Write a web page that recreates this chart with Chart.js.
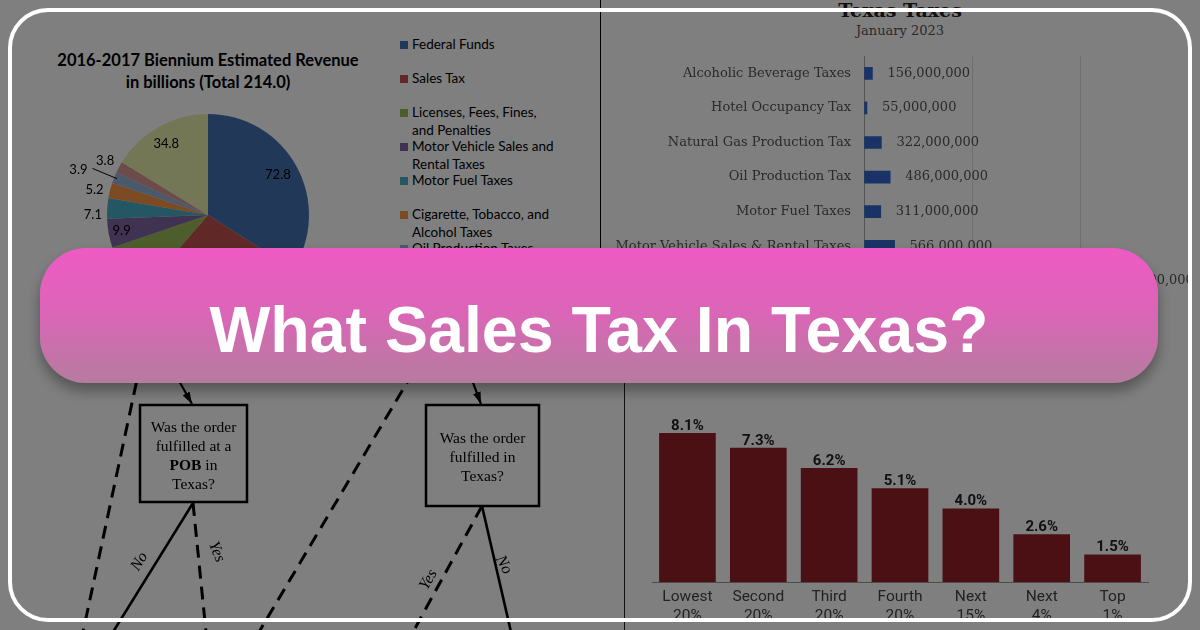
<!DOCTYPE html>
<html>
<head>
<meta charset="utf-8">
<script src="https://cdn.jsdelivr.net/npm/chart.js@4.4.1/dist/chart.umd.min.js"></script>
<style>
  html, body { margin: 0; padding: 0; }
  body { width: 1200px; height: 630px; position: relative; overflow: hidden; background: #fff; }
  .abs { position: absolute; }
  #scene { left: 0; top: 0; width: 1200px; height: 630px; background: #fff; }
  .pie-title { left: 8px; top: 49px; width: 400px; text-align: center; font: bold 16.5px Lato, sans-serif; line-height: 22px; color: #000; }
  #pieLegend { left: 400px; top: 36px; font: 13.5px Lato, sans-serif; color: #000; }
  .lg-item { position: relative; height: 34px; padding-left: 12px; line-height: 17.5px; }
  .lg-box { position: absolute; left: 0; top: 5px; width: 7.5px; height: 7.5px; }
  .hb-title { left: 700px; top: -1px; width: 400px; text-align: center; font: bold 19px "DejaVu Serif", serif; line-height: 22px; color: #222; }
  .hb-sub { left: 700px; top: 22.5px; width: 400px; text-align: center; font: 13px "DejaVu Serif", serif; line-height: 16px; color: #555; }
  .vline { width: 1px; background: #000; }
  #dim { left: 0; top: 0; width: 1200px; height: 630px; background: rgba(0, 0, 0, 0.5); }
  #frame { left: 8px; top: 8px; width: 1176px; height: 606px; border: 4px solid #fff; border-radius: 40px; }
  #banner { left: 40px; top: 248px; width: 1118px; height: 135px; border-radius: 46px;
    background: linear-gradient(180deg, #ee5ac4 0%, #dd64b8 45%, #b67c9f 100%);
    box-shadow: 0 8px 14px rgba(0, 0, 0, 0.35); }
  #banner span { position: absolute; left: 0; top: 47px; width: 100%; text-align: center;
    font: bold 64.5px "Liberation Sans", Arial, sans-serif; line-height: 70px; color: #fff; }
</style>
</head>
<body>
<div id="scene" class="abs">
  <div class="abs pie-title">2016-2017 Biennium Estimated Revenue<br>in billions (Total 214.0)</div>
  <canvas id="pieChart" class="abs" width="320" height="320" style="left:47.5px;top:55px"></canvas>
  <div id="pieLegend" class="abs"></div>

  <div class="abs vline" style="left:600px;top:0;height:260px"></div>
  <div class="abs hb-title">Texas Taxes</div>
  <div class="abs hb-sub">January 2023</div>
  <canvas id="taxChart" class="abs" width="592" height="319" style="left:600px;top:0"></canvas>

  <svg class="abs" style="left:0;top:0" width="624" height="630">
    <defs>
      <marker id="ah" viewBox="0 0 12 8" refX="12" refY="4" markerWidth="5.5" markerHeight="3.7" orient="auto">
        <path d="M0,0 L12,4 L0,8 z" fill="#000"/>
      </marker>
    </defs>
    <g stroke="#000" fill="none">
      <line x1="154" y1="300" x2="83" y2="632" stroke-width="3" stroke-dasharray="13 8"/>
      <line x1="156" y1="340" x2="192" y2="404" stroke-width="2.2" marker-end="url(#ah)"/>
      <rect x="140" y="405" width="107" height="97" stroke-width="2.5"/>
      <line x1="193" y1="503" x2="113" y2="632" stroke-width="2.6"/>
      <line x1="193" y1="503" x2="206" y2="632" stroke-width="3" stroke-dasharray="13 8"/>
      <line x1="456" y1="300" x2="259" y2="632" stroke-width="3" stroke-dasharray="13 8"/>
      <line x1="457" y1="340" x2="481" y2="404" stroke-width="2.2" marker-end="url(#ah)"/>
      <rect x="426" y="405" width="113" height="101" stroke-width="2.5"/>
      <line x1="482" y1="506" x2="413" y2="632" stroke-width="3" stroke-dasharray="13 8"/>
      <line x1="482" y1="506" x2="511" y2="632" stroke-width="2.6"/>
    </g>
    <g font-family="Liberation Serif, serif" font-size="15.5" text-anchor="middle" fill="#000">
      <text x="193.5" y="432">Was the order</text>
      <text x="193.5" y="451">fulfilled at a</text>
      <text x="193.5" y="470"><tspan font-weight="bold">POB</tspan> in</text>
      <text x="193.5" y="489">Texas?</text>
      <text x="482.5" y="443">Was the order</text>
      <text x="482.5" y="462">fulfilled in</text>
      <text x="482.5" y="481">Texas?</text>
    </g>
    <g font-family="Liberation Serif, serif" font-size="16" font-style="italic" text-anchor="middle" dominant-baseline="middle" fill="#000">
      <text transform="translate(140,562) rotate(-58)">No</text>
      <text transform="translate(216,552) rotate(68)">Yes</text>
      <text transform="translate(429,580) rotate(-60)">Yes</text>
      <text transform="translate(503,565) rotate(62)">No</text>
    </g>
  </svg>

  <div class="abs vline" style="left:624px;top:370px;height:260px;background:#222"></div>
  <canvas id="shareChart" class="abs" width="576" height="247" style="left:624px;top:383px"></canvas>
</div>
<div id="dim" class="abs"></div>
<div id="frame" class="abs"></div>
<div id="banner" class="abs"><span>What Sales Tax In Texas?</span></div>

<script>
// pie: 2016-17 biennium revenue, billions
const revenueSources = ['Federal Funds', 'Sales Tax', 'Licenses, Fees, Fines, and Penalties',
  'Motor Vehicle Sales and Rental Taxes', 'Motor Fuel Taxes', 'Cigarette, Tobacco, and Alcohol Taxes',
  'Oil Production Taxes', 'Natural Gas Production Taxes', 'Other Revenue'];
const revenueValues = [72.8, 58.6, 17.9, 9.9, 7.1, 5.2, 3.9, 3.8, 34.8];
const revenueColors = ['#4571b0', '#c0504d', '#9bbb59', '#8064a2', '#4bacc6', '#f79646', '#95b3d7', '#da9694', '#e6efaa'];
const legendLines = [['Federal Funds'], ['Sales Tax'], ['Licenses, Fees, Fines,', 'and Penalties'],
  ['Motor Vehicle Sales and', 'Rental Taxes'], ['Motor Fuel Taxes'], ['Cigarette, Tobacco, and', 'Alcohol Taxes'],
  ['Oil Production Taxes'], ['Natural Gas Production', 'Taxes'], ['Other Revenue']];

// horizontal bars: Texas taxes, January 2023
const taxNames = ['Alcoholic Beverage Taxes', 'Hotel Occupancy Tax', 'Natural Gas Production Tax',
  'Oil Production Tax', 'Motor Fuel Taxes', 'Motor Vehicle Sales & Rental Taxes', 'Sales Tax'];
const taxAmounts = [156000000, 55000000, 322000000, 486000000, 311000000, 566000000, 4070000000];

// vertical bars: share of income by group
const incomeGroups = [['Lowest', '20%'], ['Second', '20%'], ['Third', '20%'], ['Fourth', '20%'],
  ['Next', '15%'], ['Next', '4%'], ['Top', '1%']];
const incomeShare = [8.1, 7.3, 6.2, 5.1, 4.0, 2.6, 1.5];

// legend
const legendEl = document.getElementById('pieLegend');
legendLines.forEach((lines, i) => {
  const div = document.createElement('div');
  div.className = 'lg-item';
  div.innerHTML = `<span class="lg-box" style="background:${revenueColors[i]}"></span>${lines.join('<br>')}`;
  legendEl.appendChild(div);
});

const pieLabels = {
  id: 'pieLabels',
  afterDatasetsDraw(chart, args, opts) {
    const ctx = chart.ctx;
    const meta = chart.getDatasetMeta(0);
    ctx.save();
    ctx.font = opts.font;
    ctx.fillStyle = opts.color;
    ctx.strokeStyle = opts.color;
    ctx.lineWidth = 1;
    ctx.textAlign = 'center';
    ctx.textBaseline = 'middle';
    meta.data.forEach((arc, i) => {
      const p = arc.getProps(['x', 'y', 'startAngle', 'endAngle', 'outerRadius']);
      const mid = (p.startAngle + p.endAngle) / 2 + (opts.shift[i] || 0) * Math.PI / 180;
      const r = p.outerRadius * opts.radius[i];
      const lx = p.x + Math.cos(mid) * r;
      const ly = p.y + Math.sin(mid) * r;
      if (opts.leader[i]) {
        const a = (p.startAngle + p.endAngle) / 2;
        ctx.beginPath();
        ctx.moveTo(p.x + Math.cos(a) * p.outerRadius * 0.97, p.y + Math.sin(a) * p.outerRadius * 0.97);
        ctx.lineTo(lx + 14, ly - 1);
        ctx.stroke();
      }
      ctx.fillText(chart.data.datasets[0].data[i].toFixed(1), lx, ly);
    });
    ctx.restore();
  }
};

new Chart(document.getElementById('pieChart'), {
  type: 'pie',
  data: {
    labels: revenueSources,
    datasets: [{ data: revenueValues, backgroundColor: revenueColors, borderWidth: 0 }]
  },
  options: {
    responsive: false,
    animation: false,
    layout: { padding: 59 },
    plugins: {
      legend: { display: false },
      tooltip: { enabled: false },
      pieLabels: {
        font: '13px Lato, sans-serif',
        color: '#000',
        radius: [0.8, 0.8, 0.85, 0.87, 1.14, 1.15, 1.36, 1.15, 0.82],
        shift: [-1.3, 0, 0, 0, -3.8, -1.8, -2.4, -0.6, -1],
        leader: [false, false, false, false, false, false, true, false, false]
      }
    }
  },
  plugins: [pieLabels]
});

const barValues = {
  id: 'barValues',
  afterDatasetsDraw(chart, args, opts) {
    const ctx = chart.ctx;
    const meta = chart.getDatasetMeta(0);
    const data = chart.data.datasets[0].data;
    ctx.save();
    ctx.font = opts.font;
    ctx.fillStyle = opts.color;
    meta.data.forEach((bar, i) => {
      const text = opts.format(data[i]);
      if (chart.options.indexAxis === 'y') {
        ctx.textAlign = 'left';
        ctx.textBaseline = 'middle';
        ctx.fillText(text, bar.x + opts.gap, bar.y);
      } else {
        ctx.textAlign = 'center';
        ctx.textBaseline = 'alphabetic';
        ctx.fillText(text, bar.x, bar.y - opts.gap);
      }
    });
    ctx.restore();
  }
};

new Chart(document.getElementById('taxChart'), {
  type: 'bar',
  data: {
    labels: taxNames,
    datasets: [{ data: taxAmounts, backgroundColor: '#3366cc', barThickness: 12 }]
  },
  options: {
    indexAxis: 'y',
    responsive: false,
    animation: false,
    // the y ticks add ~21px padding at the bottom by themselves
    layout: { padding: { top: 56, bottom: 0, left: 0, right: 4 } },
    plugins: {
      legend: { display: false },
      tooltip: { enabled: false },
      barValues: { font: '13px "DejaVu Serif", serif', color: '#555', gap: 15, format: v => v.toLocaleString('en-US') }
    },
    scales: {
      x: {
        min: 0, max: 6000000000,
        ticks: { display: false, stepSize: 2000000000 },
        grid: { color: c => (c.tick && c.tick.value === 0) ? '#aaa' : '#ddd', drawTicks: false },
        border: { display: false },
        afterFit: s => { s.height = 0; }
      },
      y: {
        grid: { display: false, drawTicks: false },
        border: { display: true, color: '#aaa' },
        ticks: { color: '#555', font: { family: 'DejaVu Serif', size: 13 }, padding: 13 },
        afterFit: s => { s.width = 264; }
      }
    }
  },
  plugins: [barValues]
});

new Chart(document.getElementById('shareChart'), {
  type: 'bar',
  data: {
    labels: incomeGroups,
    datasets: [{ data: incomeShare, backgroundColor: '#962129', barPercentage: 0.8, categoryPercentage: 1 }]
  },
  options: {
    responsive: false,
    animation: false,
    layout: { padding: { top: 15, bottom: 0, left: 28, right: 52 } },
    plugins: {
      legend: { display: false },
      tooltip: { enabled: false },
      barValues: { font: 'bold 15px Roboto, sans-serif', color: '#222', gap: 3, format: v => v.toFixed(1) + '%' }
    },
    scales: {
      x: {
        grid: { display: false, drawTicks: false },
        border: { display: true, color: '#999' },
        ticks: { color: '#444', font: { family: 'Roboto', size: 15.5 }, padding: 6, maxRotation: 0, autoSkip: false },
        afterFit: s => { s.height = 48; }
      },
      y: { display: false, min: 0, max: 10 }
    }
  },
  plugins: [barValues]
});
</script>
</body>
</html>
